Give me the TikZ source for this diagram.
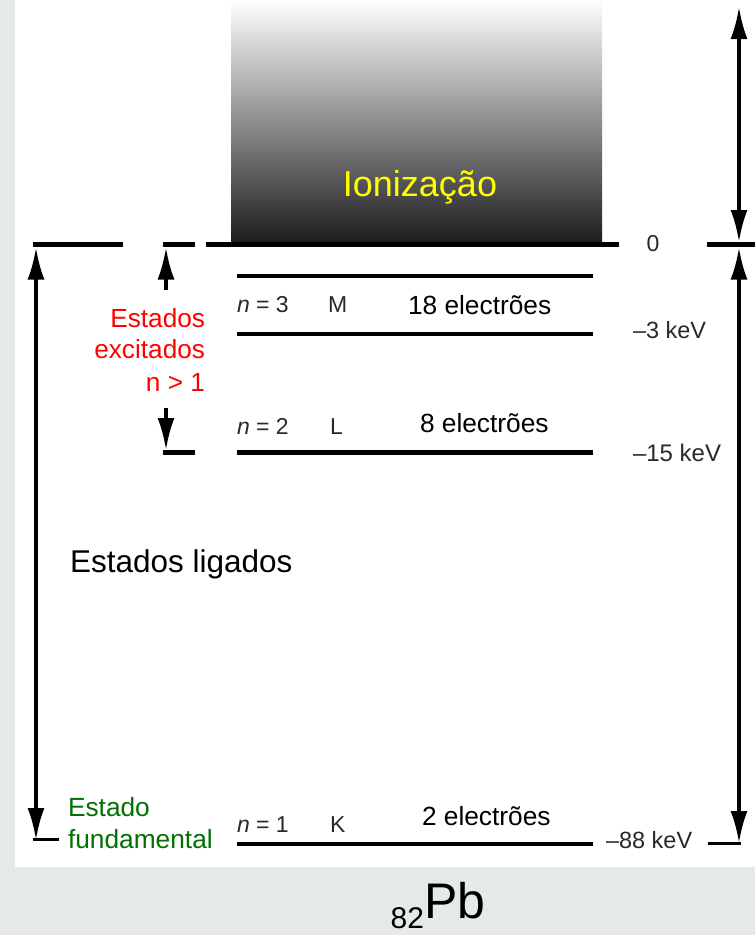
\documentclass[tikz,border=0pt]{standalone}
\usepackage{fontspec}
\setmainfont{Liberation Sans}
\usetikzlibrary{arrows.meta}
\definecolor{bgGray}{RGB}{229,233,234}
\definecolor{ionYellow}{RGB}{255,255,0}
\definecolor{exRed}{RGB}{255,0,0}
\definecolor{fundGreen}{RGB}{0,112,0}
\definecolor{lvlGray}{RGB}{40,40,45}
\definecolor{midGray}{RGB}{166,167,172}
\definecolor{botGray}{RGB}{28,28,30}
\tikzset{
  lbl/.style={inner sep=0pt, outer sep=0pt},
  fs/.style={font=\fontsize{#1}{#1}\selectfont},
  zeroline/.style={line width=5.5pt},
  level/.style={line width=4pt},
  arrboth/.style={line width=3.5pt, {Latex[length=32pt,width=17pt]}-{Latex[length=32pt,width=17pt]}},
  arrone/.style={line width=3.5pt, -{Latex[length=32pt,width=17pt]}},
  corner/.style={line width=3pt}
}
\begin{document}
\begin{tikzpicture}[x=1pt,y=-1pt]
\useasboundingbox (0,0) rectangle (755,935);
\fill[bgGray] (0,0) rectangle (755,935);
\fill[white] (15,0) rectangle (755,867);
% ionisation continuum
\shade[top color=white, middle color=midGray, bottom color=botGray] (231,0) rectangle (602,243);
\node[lbl, fs=36, text=ionYellow, anchor=base] (ion) at (420,196) {Ionização};

% zero level
\coordinate (z1a) at (33,244.5);  \coordinate (z1b) at (123,244.5);
\coordinate (z2a) at (163,244.5); \coordinate (z2b) at (195,244.5);
\coordinate (z3a) at (206,244.5); \coordinate (z3b) at (619,244.5);
\coordinate (z4a) at (707,244.5); \coordinate (z4b) at (755,244.5);
\draw[zeroline] (z1a) -- (z1b);
\draw[zeroline] (z2a) -- (z2b);
\draw[zeroline] (z3a) -- (z3b);
\draw[zeroline] (z4a) -- (z4b);
\node[lbl, fs=23, text=lvlGray] (zero) at (653,244) {0};

% levels
\coordinate (m1a) at (237,275.7); \coordinate (m1b) at (593,275.7);
\coordinate (m2a) at (237,334);   \coordinate (m2b) at (593,334);
\coordinate (l1a) at (237,452.7); \coordinate (l1b) at (593,452.7);
\coordinate (k1a) at (237,843.5); \coordinate (k1b) at (593,843.5);
\draw[level] (m1a) -- (m1b);
\draw[level] (m2a) -- (m2b);
\draw[level, line width=5pt] (l1a) -- (l1b);
\draw[level] (k1a) -- (k1b);

% level labels
\node[lbl, fs=23, text=lvlGray, anchor=base west] (n3) at (237,312) {\textit{n} = 3};
\node[lbl, fs=23, text=lvlGray, anchor=base west] (sM) at (328,312) {M};
\node[lbl, fs=26.3, anchor=base west] (e18) at (408,314) {18 electrões};
\node[lbl, fs=23, text=lvlGray, anchor=base west] (n2) at (237,434) {\textit{n} = 2};
\node[lbl, fs=23, text=lvlGray, anchor=base west] (sL) at (330,434) {L};
\node[lbl, fs=26.3, anchor=base west] (e8) at (420,432) {8 electrões};
\node[lbl, fs=23, text=lvlGray, anchor=base west] (n1) at (237,832) {\textit{n} = 1};
\node[lbl, fs=23, text=lvlGray, anchor=base west] (sK) at (330,832) {K};
\node[lbl, fs=26.3, anchor=base west] (e2) at (422,825) {2 electrões};

% energies
\node[lbl, fs=23.5, text=lvlGray, anchor=base west] (E3) at (633,338) {–3 keV};
\node[lbl, fs=24, text=lvlGray, anchor=base west] (E15) at (633,461) {–15 keV};
\node[lbl, fs=23.5, text=lvlGray, anchor=base west] (E88) at (606,848) {–88 keV};

% left big arrow
\coordinate (lt) at (36,247.5); \coordinate (lb) at (36,840);
\coordinate (lc) at (59,839);
\draw[arrboth] (lb) -- (lt);
\draw[corner] (33,839) -- (lc);

% small excited arrows
\coordinate (st0) at (166,290);  \coordinate (st1) at (166,247.5);
\coordinate (sb0) at (166,408);  \coordinate (sb1) at (166,450);
\draw[arrone] (st0) -- (st1);
\draw[arrone] (sb0) -- (sb1);
\coordinate (sba) at (163,452.7); \coordinate (sbb) at (195,452.7);
\draw[zeroline, line width=5pt] (sba) -- (sbb);

% right arrows
\coordinate (rt) at (739,7); \coordinate (rz1) at (739,242);
\coordinate (rz2) at (739,247.5); \coordinate (rb) at (739,843);
\draw[arrboth] (rt) -- (rz1);
\draw[arrboth] (rz2) -- (rb);
\coordinate (rca) at (708,843.5);
\draw[corner] (rca) -- (740.5,843.5);

% side texts
\node[lbl, fs=26.2, text=exRed, anchor=base east] (ex1) at (205,327) {Estados};
\node[lbl, fs=26.2, text=exRed, anchor=base east] (ex2) at (205,358) {excitados};
\node[lbl, fs=26.2, text=exRed, anchor=base east] (ex3) at (205,391) {n > 1};
\node[lbl, fs=31.5, anchor=base west] (lig) at (70,572) {Estados ligados};
\node[lbl, fs=26.3, text=fundGreen, anchor=base west] (f1) at (68,816) {Estado};
\node[lbl, fs=26.3, text=fundGreen, anchor=base west] (f2) at (68,848) {fundamental};

% element
\node[lbl, fs=50, anchor=base west] (pb) at (424,918) {Pb};
\node[lbl, fs=30, anchor=base east] (z82) at (pb.base west) [yshift=-10pt] {82};
\end{tikzpicture}
\end{document}
